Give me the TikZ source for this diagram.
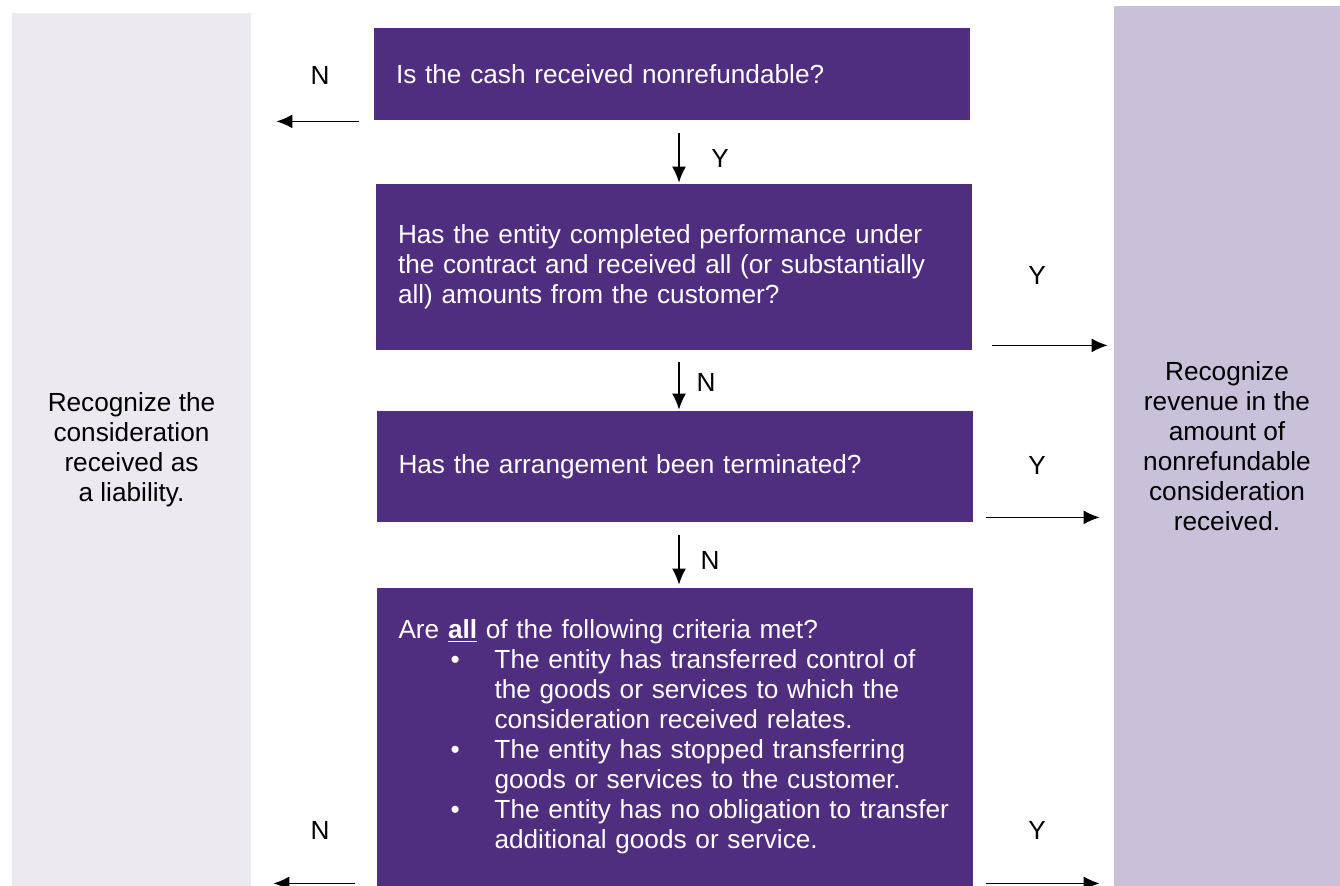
\documentclass[tikz,border=0pt]{standalone}
\usepackage{fontspec}
\setmainfont{Liberation Sans}
\usepackage{xcolor}
\usepackage{tikz}
\usetikzlibrary{arrows.meta}

\definecolor{boxpurple}{HTML}{4F2D7F}
\definecolor{leftgrey}{HTML}{ECE9F0}
\definecolor{rightlav}{HTML}{C9C0DA}

\newcommand{\bul}{\hspace*{26pt}\makebox[22pt][l]{\textbullet}}
\newcommand{\ind}{\hspace*{48pt}}

\begin{document}
\begin{tikzpicture}[x=0.5pt,y=-0.5pt,
  font=\fontsize{13.1}{15}\selectfont,
  qbox/.style={rectangle, fill=boxpurple, text=white, align=left,
    inner xsep=11pt, inner ysep=0pt, text width=276pt, minimum width=298pt},
  panel/.style={rectangle, align=center, inner sep=0pt},
  flow/.style={-{Latex[length=8pt,width=7pt]}, line width=0.75pt},
  yn/.style={inner sep=0pt}]
 \path[use as bounding box] (0,0) rectangle (1340,886);

% side panels
\node[panel, fill=leftgrey, minimum width=119.5pt, minimum height=436.5pt] (lp) at (131.5,449.5)
  {Recognize the\\consideration\\received as\\a liability.};
\node[panel, fill=rightlav, minimum width=113pt, minimum height=440pt] (rp) at (1227,446)
  {Recognize\\revenue in the\\amount of\\nonrefundable\\consideration\\received.};

% questions
\node[qbox, minimum height=46pt] (q1) at (672,74) {Is the cash received nonrefundable?};
\node[qbox, minimum height=83pt] (q2) at (674,267)
  {Has the entity completed performance under\\the contract and received all (or substantially\\all) amounts from the customer?};
\node[qbox, minimum height=55.5pt] (q3) at (674.5,466.5) {Has the arrangement been terminated?};
\node[qbox, minimum height=149pt] (q4) at (674.5,737)
  {Are \underline{\textbf{all}} of the following criteria met?\\
   \bul The entity has transferred control of\\
   \ind the goods or services to which the\\
   \ind consideration received relates.\\
   \bul The entity has stopped transferring\\
   \ind goods or services to the customer.\\
   \bul The entity has no obligation to transfer\\
   \ind additional goods or service.};

% arrows down
\draw[flow] ([xshift=3.5pt,yshift=-6.5pt]q1.south) -- ([xshift=2.5pt,yshift=0.5pt]q2.north);
\draw[flow] ([xshift=2.5pt,yshift=-6pt]q2.south) -- ([xshift=2.25pt,yshift=0.5pt]q3.north);
\draw[flow] ([xshift=2.25pt,yshift=-6.5pt]q3.south) -- ([xshift=2.25pt,yshift=1.5pt]q4.north);

% arrows to the sides
\draw[flow, shorten >=12.5pt] ([xshift=-7.5pt,yshift=-0.5pt]q1.south west) -- ([yshift=-0.5pt]q1.south west -| lp.east);
\draw[flow, shorten >=3pt] ([xshift=10pt,yshift=2.5pt]q2.south east) -- ([yshift=2.5pt]q2.south east -| rp.west);
\draw[flow, shorten >=7pt] ([xshift=6.5pt,yshift=2.5pt]q3.south east) -- ([yshift=2.5pt]q3.south east -| rp.west);
\draw[flow, shorten >=11pt] ([xshift=-10.5pt,yshift=1.5pt]q4.south west) -- ([yshift=1.5pt]q4.south west -| lp.east);
\draw[flow, shorten >=7pt] ([xshift=6.5pt,yshift=1.5pt]q4.south east) -- ([yshift=1.5pt]q4.south east -| rp.west);

% Y / N
\node[yn] (n1) at (320,75) {N};
\node[yn] (y1) at (720,158) {Y};
\node[yn] (n2) at (706,382) {N};
\node[yn] (n3) at (710,560) {N};
\node[yn] (y2) at (1037,275) {Y};
\node[yn] (y3) at (1037,465) {Y};
\node[yn] (n4) at (320,830) {N};
\node[yn] (y4) at (1037,830) {Y};

\end{tikzpicture}
\end{document}
